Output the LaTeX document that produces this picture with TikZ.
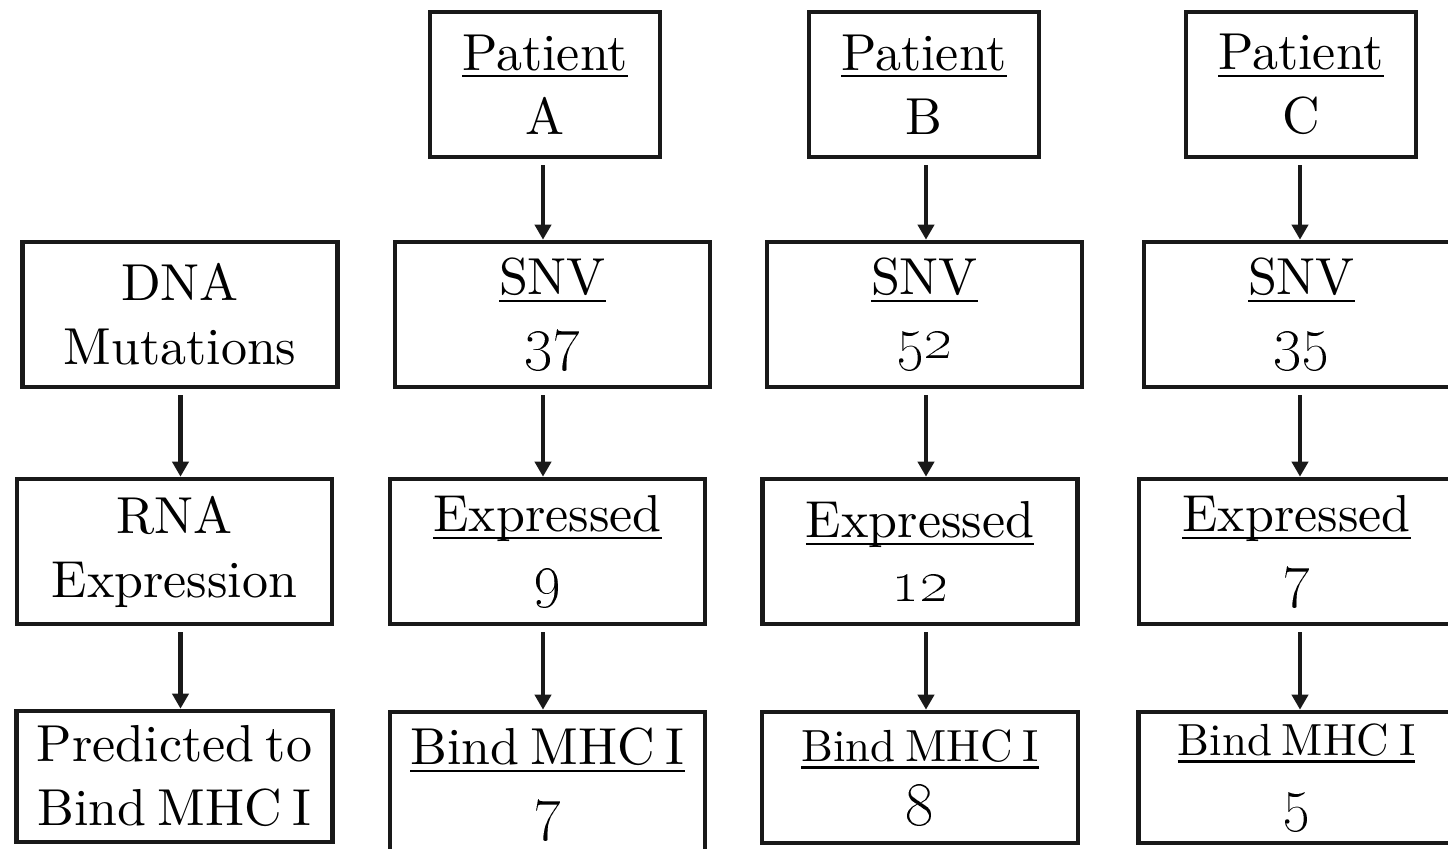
\documentclass[tikz,border=0pt]{standalone}
\usepackage{graphicx}
\NewCommandCopy{\osnum}{\oldstylenums}
\usepackage{fontspec}
\setmainfont{lmroman10-regular.otf}[WordSpace=0.65]
\usepackage{tikz}
\usetikzlibrary{arrows.meta,positioning}
\newcommand{\ulab}[1]{\leavevmode\setbox0\hbox{#1}\rlap{\rule[-3.6pt]{\wd0}{1.1pt}}\box0}
\newcommand{\osn}[1]{\scalebox{1.25}{\osnum{#1}}}

\begin{document}
\begin{tikzpicture}[x=0.5pt,y=-0.5pt,
    box/.style={draw=black!90,line width=2.3pt,align=center,inner sep=0pt,
      font=\fontsize{26}{32}\selectfont},
    patbox/.style={box,minimum width=115pt,minimum height=72.5pt},
    wide/.style={box,minimum width=157.5pt,minimum height=72.5pt},
    short/.style={box,minimum width=158pt,minimum height=65.5pt},
    arr/.style={-{Triangle[width=8pt,length=7.5pt]},line width=2.2pt,black!90}]
\useasboundingbox (0,0) rectangle (1448,848);
\clip (0,0) rectangle (1448,848);
% left column: the steps
\node[wide] (dna)  at (180,314.5)   {DNA\\Mutations};
\node[wide] (rna)  at (174.5,551.5) {RNA\\Expression};
\node[short] (pred) at (174.5,776.5) {Predicted to\\Bind MHC I};
% patient A
\node[patbox] (pa)   at (545,84.5)    {\ulab{Patient}\\A};
\node[wide]   (snva) at (552.5,314.5) {\ulab{SNV}\\\osn{37}};
\node[wide]   (expa) at (547.5,551.5) {\ulab{Expressed}\\\osn{9}};
\node[wide]   (bnda) at (547.5,784.5) {\ulab{Bind MHC I}\\\osn{7}};
% patient B
\node[patbox] (pb)   at (924,84.5)    {\ulab{Patient}\\B};
\node[wide]   (snvb) at (924.5,314.5) {\ulab{SNV}\\\osn{52}};
\node[wide]   (expb) at (920,551.5)   {\ulab{Expressed}\\\osn{12}};
\node[short]  (bndb) at (920,777.5)
  {{\fontsize{22.5}{28}\selectfont\ulab{Bind MHC I}}\\\osn{8}};
% patient C
\node[patbox] (pc)   at (1301,84.5)    {\ulab{Patient}\\C};
\node[wide]   (snvc) at (1301.5,314.5) {\ulab{SNV}\\\osn{35}};
\node[wide]   (expc) at (1296.5,551.5) {\ulab{Expressed}\\\osn{7}};
\node[short]  (bndc) at (1296.5,777.5)
  {{\fontsize{22.5}{28}\selectfont\ulab{Bind MHC I}}\\\osn{5}};
% arrow columns
\coordinate (cl) at (180.5,0);
\coordinate (ca) at (543,0);
\coordinate (cb) at (926,0);
\coordinate (cc) at (1300,0);
\foreach \s/\t/\c in {dna/rna/cl,rna/pred/cl,
    pa/snva/ca,snva/expa/ca,expa/bnda/ca,
    pb/snvb/cb,snvb/expb/cb,expb/bndb/cb,
    pc/snvc/cc,snvc/expc/cc,expc/bndc/cc}
  \draw[arr] ([yshift=-3pt]\s.south -| \c) -- (\t.north -| \c);
\end{tikzpicture}
\end{document}
